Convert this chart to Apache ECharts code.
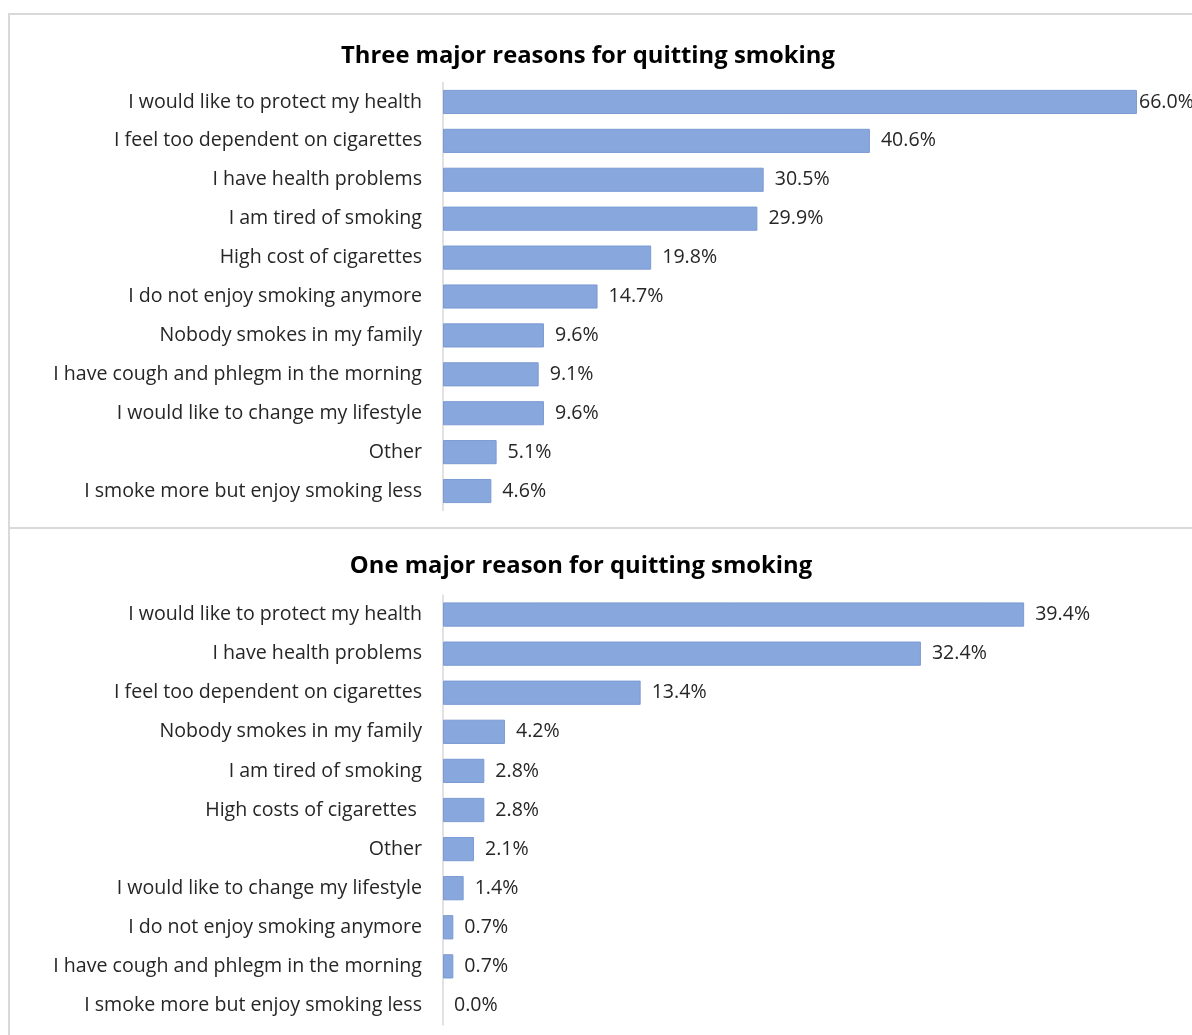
<!DOCTYPE html>
<html>
<head>
<meta charset="utf-8">
<script src="https://cdn.jsdelivr.net/npm/echarts@6/dist/echarts.min.js"></script>
<style>
  html, body { margin: 0; padding: 0; background: #fff; }
  #chart { width: 1192px; height: 1035px; }
</style>
</head>
<body>
<div id="chart"></div>
<script>
// top panel: three major reasons
var threeReasons = [
  "I would like to protect my health",
  "I feel too dependent on cigarettes",
  "I have health problems",
  "I am tired of smoking",
  "High cost of cigarettes",
  "I do not enjoy smoking anymore",
  "Nobody smokes in my family",
  "I have cough and phlegm in the morning",
  "I would like to change my lifestyle",
  "Other",
  "I smoke more but enjoy smoking less"
];
var threeValues = [66.0, 40.6, 30.5, 29.9, 19.8, 14.7, 9.6, 9.1, 9.6, 5.1, 4.6];

// bottom panel: one major reason
var oneReasons = [
  "I would like to protect my health",
  "I have health problems",
  "I feel too dependent on cigarettes",
  "Nobody smokes in my family",
  "I am tired of smoking",
  "High costs of cigarettes ",
  "Other",
  "I would like to change my lifestyle",
  "I do not enjoy smoking anymore",
  "I have cough and phlegm in the morning",
  "I smoke more but enjoy smoking less"
];
var oneValues = [39.4, 32.4, 13.4, 4.2, 2.8, 2.8, 2.1, 1.4, 0.7, 0.7, 0.0];

var titles = ["Three major reasons for quitting smoking", "One major reason for quitting smoking"];

var fontFam = "'Open Sans', 'Liberation Sans', sans-serif";
var barColor = "#87a7dd";

var myChart = echarts.init(document.getElementById("chart"));

function yAxisFor(idx, cats) {
  return {
    type: "category",
    gridIndex: idx,
    data: cats,
    inverse: true,
    axisLine: { show: true, lineStyle: { color: "#d9d9d9", width: 1.5 } },
    axisTick: { show: false },
    axisLabel: { color: "#262626", fontSize: 19.6, fontFamily: fontFam, margin: 21 }
  };
}

function xAxisFor(idx, max) {
  return {
    type: "value",
    gridIndex: idx,
    min: 0,
    max: max,
    show: false,
    splitLine: { show: false }
  };
}

function seriesFor(idx, vals, maxVal) {
  var items = vals.map(function (v) {
    var it = { value: v };
    if (v === 0) it.itemStyle = { borderWidth: 0 };
    // the longest bar's label sits tight against the bar end (clipped by the frame)
    if (v === maxVal && idx === 0) it.label = { distance: 2 };
    return it;
  });
  return {
    type: "bar",
    xAxisIndex: idx,
    yAxisIndex: idx,
    data: items,
    barCategoryGap: "38%",
    itemStyle: { color: barColor, borderColor: "#7b9ad3", borderWidth: 1 },
    label: {
      show: true,
      position: "right",
      distance: 11,
      color: "#262626",
      fontSize: 19.6,
      fontFamily: fontFam,
      formatter: function (p) { return p.value.toFixed(1) + "%"; }
    }
  };
}

var option = {
  backgroundColor: "#fff",
  animation: false,
  title: [
    { text: titles[0], left: 583, top: 39, textAlign: "center",
      textStyle: { fontSize: 23.8, fontWeight: "bold", color: "#000", fontFamily: fontFam } },
    { text: titles[1], left: 576, top: 549, textAlign: "center",
      textStyle: { fontSize: 23.8, fontWeight: "bold", color: "#000", fontFamily: fontFam } }
  ],
  // 66% lands near x=1137, 39.4% near x=1024
  grid: [
    { left: 443, top: 82.5, width: 736, height: 428, containLabel: false },
    { left: 443, top: 595, width: 737.5, height: 430, containLabel: false }
  ],
  xAxis: [xAxisFor(0, 70), xAxisFor(1, 50)],
  yAxis: [yAxisFor(0, threeReasons), yAxisFor(1, oneReasons)],
  series: [seriesFor(0, threeValues, Math.max.apply(null, threeValues)),
           seriesFor(1, oneValues, Math.max.apply(null, oneValues))],
  graphic: [
    // panel frames
    { type: "rect", shape: { x: 9, y: 14, width: 1200, height: 514 },
      style: { fill: null, stroke: "#d9d9d9", lineWidth: 2 }, silent: true },
    { type: "rect", shape: { x: 9, y: 528, width: 1200, height: 520 },
      style: { fill: null, stroke: "#d9d9d9", lineWidth: 2 }, silent: true }
  ]
};

myChart.setOption(option);
</script>
</body>
</html>
